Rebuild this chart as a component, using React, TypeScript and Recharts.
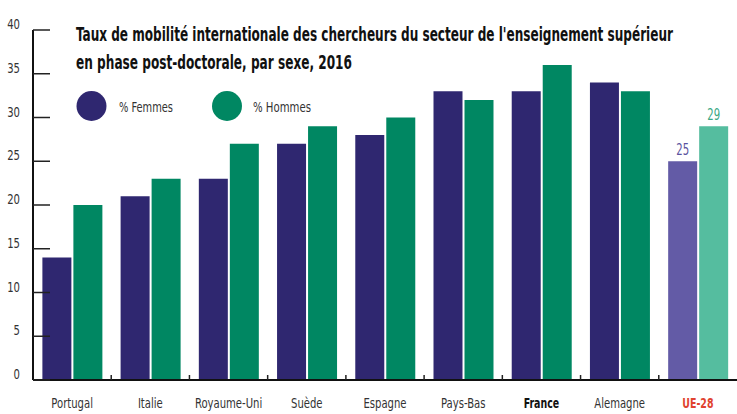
import React from 'react';
import { BarChart, Bar, XAxis, YAxis, Cell, LabelList } from 'recharts';

// ---------------------------------------------------------------------------
// Data
// ---------------------------------------------------------------------------

const categories = [
  'Portugal', 'Italie', 'Royaume-Uni', 'Suède', 'Espagne',
  'Pays-Bas', 'France', 'Alemagne', 'UE-28',
];
const femmes = [14, 21, 23, 27, 28, 33, 33, 34, 25];
const hommes = [20, 23, 27, 29, 30, 32, 36, 33, 29];
const yTicks = [0, 5, 10, 15, 20, 25, 30, 35, 40];

const titleLines = [
  "Taux de mobilité internationale des chercheurs du secteur de l'enseignement supérieur",
  'en phase post-doctorale, par sexe, 2016',
];

const data = categories.map((label, i) => ({ label, femmes: femmes[i], hommes: hommes[i] }));

// ---------------------------------------------------------------------------
// Style
// ---------------------------------------------------------------------------

const FONT = '"DejaVu Sans Condensed", "DejaVu Sans", sans-serif';
const PURPLE = '#2f2770';
const GREEN = '#008762';
const PURPLE_EU = '#635ba6';
const GREEN_EU = '#55bd9f';
const W = 737;
const H = 414;
const AXIS_X = 33;
const BAND = (W - AXIS_X) / categories.length;
const SQUEEZE = 0.8;

// condensed text: horizontal squeeze, same height
const NText: React.FC<{
  x: number; y: number; size: number; fill: string; anchor?: 'start' | 'middle' | 'end';
  weight?: string; scale?: number; length?: number; children: React.ReactNode;
}> = ({ x, y, size, fill, anchor = 'start', weight = 'normal', scale = SQUEEZE, length, children }) => (
  <text transform={`translate(${x},${y}) scale(${scale},1)`} x={0} y={0}
    textAnchor={anchor} fontSize={size} fontWeight={weight} fill={fill} fontFamily={FONT}
    textLength={length ? length / scale : undefined}
    lengthAdjust={length ? 'spacingAndGlyphs' : undefined}>
    {children}
  </text>
);

const YTick = (props: any) => {
  const { y, payload } = props;
  return (
    <g>
      <line x1={AXIS_X} x2={AXIS_X + 17} y1={y} y2={y} stroke="#222" strokeWidth={1.5} />
      <NText x={20} y={y - 1} size={14} fill="#333" anchor="end">{payload.value}</NText>
    </g>
  );
};

const XTick = (props: any) => {
  const { x, payload, index } = props;
  const label = payload.value as string;
  const isFr = label === 'France';
  const isEu = label === 'UE-28';
  return (
    <g>
      {index > 0 && (
        <line x1={x - BAND / 2} x2={x - BAND / 2} y1={380} y2={375} stroke="#222" strokeWidth={1.5} />
      )}
      <NText x={x} y={408} size={14} anchor="middle"
        weight={isFr || isEu ? 'bold' : 'normal'}
        fill={isEu ? '#e0432f' : isFr ? '#111' : '#333'}
        scale={isFr || isEu ? 0.75 : SQUEEZE}>
        {label}
      </NText>
    </g>
  );
};

const euLabel = (color: string) => (p: any) => {
  if (p.index !== categories.length - 1) return null;
  return (
    <NText x={p.x + p.width / 2} y={p.y - 6} size={15} fill={color} anchor="middle" scale={0.75}>
      {p.value}
    </NText>
  );
};

// ---------------------------------------------------------------------------
// Main component
// ---------------------------------------------------------------------------

export default function App() {
  return (
    <div style={{ position: 'absolute', left: 0, top: 0, width: W, height: H, background: '#fff', fontFamily: FONT }}>
      <BarChart width={W} height={H} data={data}
        margin={{ top: 30, right: 0, left: 0, bottom: 0 }}
        barCategoryGap="12%" barGap={2}>
        <XAxis dataKey="label" interval={0} height={34} tickLine={false}
          axisLine={{ stroke: '#111', strokeWidth: 2 }} tick={<XTick />} />
        <YAxis width={AXIS_X} domain={[0, 40]} ticks={yTicks} tickLine={false}
          axisLine={{ stroke: '#111', strokeWidth: 2 }} tick={<YTick />} />
        <Bar dataKey="femmes" isAnimationActive={false}>
          {data.map((_, i) => (
            <Cell key={i} fill={i === data.length - 1 ? PURPLE_EU : PURPLE} />
          ))}
          <LabelList dataKey="femmes" content={euLabel('#5a53a0')} />
        </Bar>
        <Bar dataKey="hommes" isAnimationActive={false}>
          {data.map((_, i) => (
            <Cell key={i} fill={i === data.length - 1 ? GREEN_EU : GREEN} />
          ))}
          <LabelList dataKey="hommes" content={euLabel('#3aa884')} />
        </Bar>
      </BarChart>

      {/* title + legend */}
      <svg width={W} height={130} style={{ position: 'absolute', left: 0, top: 0, pointerEvents: 'none' }}>
        <NText x={76} y={41} size={19} weight="bold" fill="#111" scale={0.7} length={597}>
          {titleLines[0]}
        </NText>
        <NText x={76} y={69} size={19} weight="bold" fill="#111" scale={0.7} length={276}>
          {titleLines[1]}
        </NText>
        <circle cx={91.5} cy={106} r={15} fill={PURPLE} />
        <NText x={119} y={112} size={14} fill="#333" length={54}>% Femmes</NText>
        <circle cx={227} cy={106} r={15} fill={GREEN} />
        <NText x={253} y={112} size={14} fill="#333" length={58}>% Hommes</NText>
      </svg>
    </div>
  );
}
